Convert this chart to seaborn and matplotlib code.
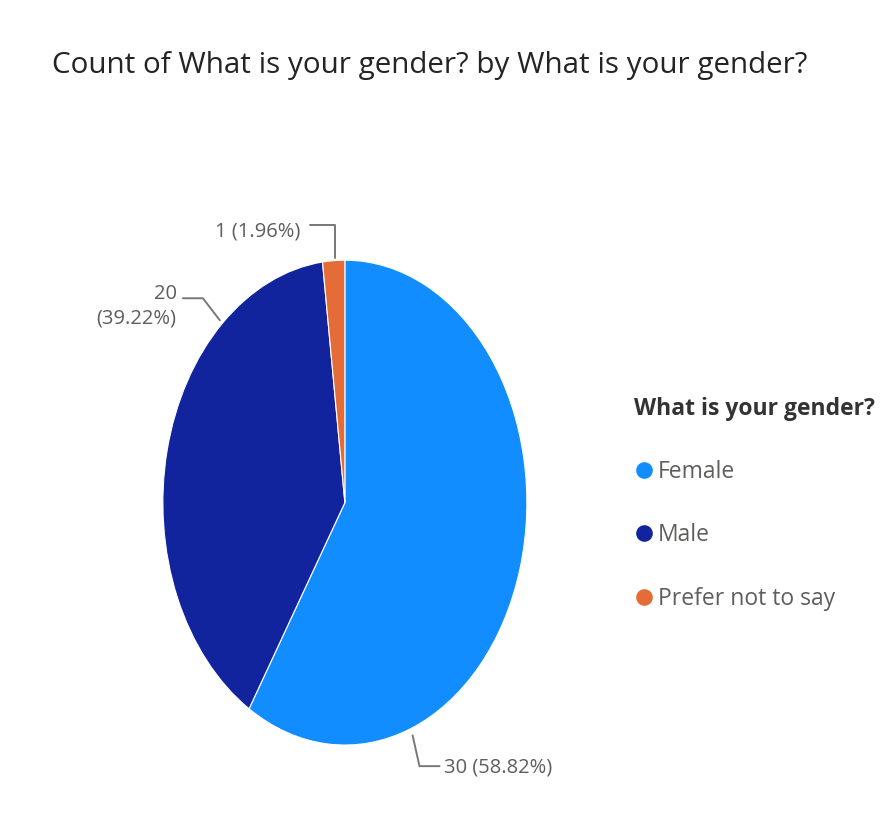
import matplotlib
matplotlib.use("Agg")
import matplotlib.pyplot as plt
from matplotlib.lines import Line2D
import seaborn as sns

# data
categories = ["Female", "Male", "Prefer not to say"]
counts = [30, 20, 1]
percent_labels = ["58.82%", "39.22%", "1.96%"]
colors = ["#118DFF", "#12239E", "#E66C37"]

sns.set_theme(style="white")
plt.rcParams["font.family"] = ["Open Sans", "DejaVu Sans"]

fig = plt.figure(figsize=(8.9, 8.26), dpi=100)
fig.patch.set_facecolor("white")

# pie axes sized so the pie is stretched vertically like the reference
ax = fig.add_axes([0.183, 0.098, 0.409, 0.587])
wedges, _ = ax.pie(counts, colors=colors, startangle=90, counterclock=False,
                   wedgeprops=dict(edgecolor="white", linewidth=0.8))
ax.set_aspect("auto")
ax.set_xlim(-1, 1)
ax.set_ylim(-1, 1)
ax.axis("off")

# data labels with leader lines: (anchor near edge, elbow, line end, text pos, ha)
label_layout = {
    "Female": ((0.372, -0.96), (0.41, -1.087), (0.52, -1.087), (0.545, -1.092), "left"),
    "Male": ((-0.687, 0.752), (-0.780, 0.843), (-0.890, 0.843), (-0.925, 0.81), "right"),
    "Prefer not to say": ((-0.055, 1.008), (-0.055, 1.145), (-0.192, 1.145), (-0.247, 1.12), "right"),
}
label_color = "#605E5C"
for cat, n, pct in zip(categories, counts, percent_labels):
    anchor, elbow, end, tpos, ha = label_layout[cat]
    ax.plot([anchor[0], elbow[0], end[0]], [anchor[1], elbow[1], end[1]],
            color="#7a7876", lw=1.4, clip_on=False)
    if cat == "Male":
        txt = f"{n}\n({pct})"
    else:
        txt = f"{n} ({pct})"
    ax.text(tpos[0], tpos[1], txt, ha=ha, va="center", fontsize=14.5,
            color=label_color, multialignment="right", linespacing=1.3)

fig.text(0.058, 1 - 66 / 826, "Count of What is your gender? by What is your gender?",
         ha="left", va="center", fontsize=21.3, color="#252423")

handles = [Line2D([0], [0], marker="o", color="w", markerfacecolor=c,
                  markersize=13, linestyle="") for c in colors]
leg = fig.legend(handles, categories, title="What is your gender?",
                 loc="upper left", bbox_to_anchor=(0.712, 1 - 397 / 826),
                 frameon=False, fontsize=16.5, title_fontsize=16.5,
                 labelspacing=1.71, handletextpad=0.15, handlelength=0.9,
                 borderaxespad=0, borderpad=0, alignment="left",
                 labelcolor=label_color)
leg.get_title().set_fontweight("bold")
leg.get_title().set_color("#333333")

fig.savefig("out.png", dpi=100, facecolor="white")
